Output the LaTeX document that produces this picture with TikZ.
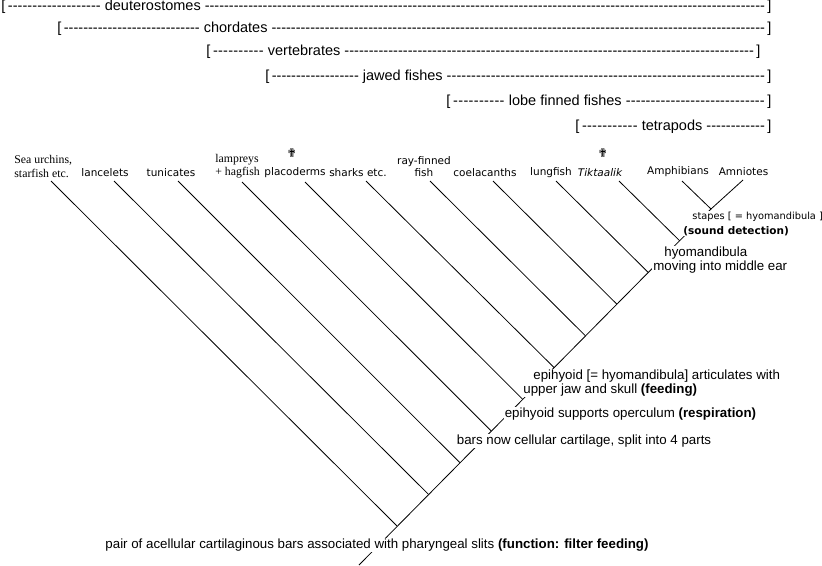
\documentclass[tikz,border=0pt]{standalone}
\usepackage{fontspec}
\setmainfont{Liberation Sans}
\newfontfamily\genfont{DejaVu Sans}
\newfontfamily\serfont{Liberation Serif}
\newcommand\claderow[3]{\hbox to #2pt{[\,\xleaders\hbox{-}\hskip #3pt\ #1\ \xleaders\hbox{-}\hfill\,]}}
\begin{document}
\begin{tikzpicture}[x=1pt, y=-1pt, line width=0.8pt,
clade/.style={anchor=west, inner sep=0pt, font=\fontsize{14.5}{17}\selectfont},
taxon/.style={inner sep=0pt, font=\genfont\fontsize{10.5}{12.5}\selectfont},
oldtaxon/.style={inner sep=0pt, align=left, anchor=west, font=\serfont\fontsize{11.8}{13.3}\selectfont},
trait/.style={fill=white, inner sep=1pt, font=\fontsize{13.3}{14.5}\selectfont}]
\useasboundingbox (0,0) rectangle (822,565);
\node[clade] (deut) at (1,7) {\claderow{deuterostomes}{770}{93}};
\node[clade] (chor) at (57,29) {\claderow{chordates}{714}{136}};
\node[clade] (vert) at (206,52) {\claderow{vertebrates}{554}{51}};
\node[clade] (jawd) at (265,77) {\claderow{jawed fishes}{506}{87}};
\node[clade] (lobe) at (446,102) {\claderow{lobe finned fishes}{325}{52}};
\node[clade] (tetr) at (575,127) {\claderow{tetrapods}{196}{56}};
\node[oldtaxon] (sea) at (14,166.5) {Sea urchins,\\starfish etc.};
\node[taxon] (lanc) at (105,173) {lancelets};
\node[taxon] (tuni) at (171,173) {tunicates};
\node[oldtaxon] (lamp) at (215,166.5) {lampreys\\+ hagfish};
\node[taxon] (plac) at (295,173) {placoderms};
\node[taxon] (shar) at (358,173) {sharks etc.};
\node[taxon, align=center] (rayf) at (424,166.5) {ray-finned\\fish};
\node[taxon] (coel) at (485,173) {coelacanths};
\node[taxon] (lung) at (551,173) {lungfish};
\node[taxon] (tikt) at (600,173) {\itshape Tiktaalik};
\node[taxon] (amph) at (678,171.5) {Amphibians};
\node[taxon] (amni) at (743.5,172) {Amniotes};
\node[taxon, font=\genfont\fontsize{12}{12}\selectfont] (ext1) at (292,153) {✟};
\node[taxon, font=\genfont\fontsize{12}{12}\selectfont] (ext2) at (603,153) {✟};
\coordinate (root) at (359,565);
\coordinate (j1) at (397,526);
\coordinate (j2) at (428.4,494.3);
\coordinate (j3) at (459.8,462.6);
\coordinate (j4) at (491.2,430.9);
\coordinate (j5) at (522.6,399.2);
\coordinate (j6) at (554,367.5);
\coordinate (j7) at (585.4,335.8);
\coordinate (j8) at (616.8,304.1);
\coordinate (j9) at (648.2,272.4);
\coordinate (j10) at (679.6,240.7);
\coordinate (j11) at (711,209);
\coordinate (t1) at (51,181);
\coordinate (t2) at (114,181);
\coordinate (t3) at (178,181);
\coordinate (t4) at (242,182);
\coordinate (t5) at (305,182);
\coordinate (t6) at (366,181);
\coordinate (t7) at (430,181);
\coordinate (t8) at (493,181);
\coordinate (t9) at (556,181);
\coordinate (t10) at (619,181);
\coordinate (t11) at (682,181);
\coordinate (t12) at (743,180);
\draw (root) -- (j11);
\draw (j1) edge (t1);
\draw (j2) edge (t2);
\draw (j3) edge (t3);
\draw (j4) edge (t4);
\draw (j5) edge (t5);
\draw (j6) edge (t6);
\draw (j7) edge (t7);
\draw (j8) edge (t8);
\draw (j9) edge (t9);
\draw (j10) edge (t10);
\draw (j11) edge (t11);
\draw (j11) edge (t12);
\node[trait] (pair) at (377,545) {pair of acellular cartilaginous bars associated with pharyngeal slits \textbf{(function: filter feeding)}};
\node[trait] (bars) at (584,441) {bars now cellular cartilage, split into 4 parts};
\node[trait] (oper) at (630.5,414) {epihyoid supports operculum \textbf{(respiration)}};
\node[trait, anchor=west, align=left] (artc) at (522,383) {\hspace*{10pt}epihyoid [= hyomandibula] articulates with\\upper jaw and skull \textbf{(feeding)}};
\node[trait, anchor=west, align=left] (ear) at (652,260) {\hspace*{11pt}hyomandibula\\moving into middle ear};
\node[trait, anchor=west, align=left, font=\genfont\fontsize{9.8}{15}\selectfont] (stap) at (682,223.5) {\hspace*{9pt}stapes [ = hyomandibula ]\\{\fontsize{10.5}{15}\selectfont\bfseries (sound detection)}};
\end{tikzpicture}
\end{document}
